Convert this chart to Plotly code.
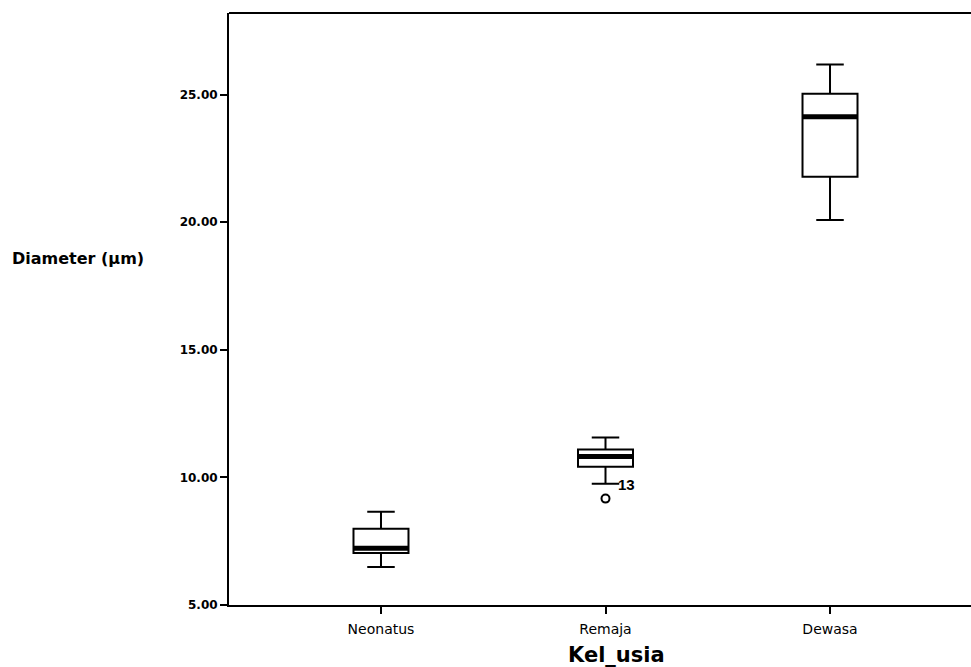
import plotly.graph_objects as go

# ---- data ----
categories = ["Neonatus", "Remaja", "Dewasa"]
lower_fence = [6.49, 9.75, 20.09]
q1_values = [7.04, 10.42, 21.78]
median_values = [7.22, 10.82, 24.13]
q3_values = [7.99, 11.09, 25.04]
upper_fence = [8.65, 11.56, 26.18]
outlier_cat = [1]
outlier_values = [9.17]
outlier_labels = ["13"]
y_ticks = [5, 10, 15, 20, 25]

BOX_W = 0.245
xpos = list(range(len(categories)))

fig = go.Figure()
fig.add_trace(go.Box(
    x=xpos,
    q1=q1_values, median=median_values, q3=q3_values,
    lowerfence=lower_fence, upperfence=upper_fence,
    width=BOX_W, whiskerwidth=0.5,
    fillcolor="white",
    line=dict(color="black", width=2),
    showlegend=False, hoverinfo="skip",
))

# thick median lines (SPSS style)
for i, m in zip(xpos, median_values):
    fig.add_shape(type="line", xref="x", yref="y",
                  x0=i - BOX_W / 2, x1=i + BOX_W / 2, y0=m, y1=m,
                  line=dict(color="black", width=5))

# outliers
fig.add_trace(go.Scatter(
    x=outlier_cat, y=outlier_values, mode="markers",
    marker=dict(symbol="circle-open", size=8, color="black", line=dict(width=2)),
    showlegend=False, hoverinfo="skip",
))
for xc, yv, lab in zip(outlier_cat, outlier_values, outlier_labels):
    fig.add_annotation(x=xc, y=yv, text="<b>" + lab + "</b>", showarrow=False,
                       xanchor="left", yanchor="middle", xshift=10, yshift=14,
                       font=dict(family="Liberation Sans", size=15, color="black"))

# top frame line
fig.add_shape(type="line", xref="paper", yref="paper", x0=0, x1=1, y0=1, y1=1,
              line=dict(color="black", width=2))

fig.update_layout(
    width=971, height=667,
    margin=dict(l=229, r=0, t=13, b=62),
    paper_bgcolor="white", plot_bgcolor="white",
    font=dict(family="DejaVu Sans", color="black"),
    xaxis=dict(
        range=[-0.677, 2.628],
        tickvals=xpos, ticktext=categories,
        showline=True, linecolor="black", linewidth=2,
        ticks="outside", ticklen=7, tickwidth=2, tickcolor="black",
        showgrid=False, zeroline=False,
        tickfont=dict(family="DejaVu Sans", size=14, color="black"),
        ticklabelstandoff=3,
    ),
    yaxis=dict(
        range=[5, 28.2],
        tickvals=y_ticks, tickformat=".2f",
        showline=True, linecolor="black", linewidth=2,
        ticks="outside", ticklen=7, tickwidth=2, tickcolor="black",
        showgrid=False, zeroline=False,
        tickfont=dict(family="DejaVu Sans", size=12, color="black", weight="bold"),
    ),
    annotations=list(fig.layout.annotations) + [
        dict(text="<b>Diameter (µm)</b>", xref="paper", yref="paper",
             x=-0.295, y=0.586, xanchor="left", yanchor="middle", showarrow=False,
             font=dict(family="DejaVu Sans", size=16, color="black")),
        dict(text="<b>Kel_usia</b>", xref="paper", yref="paper",
             x=0.5216, y=-0.0845, xanchor="center", yanchor="middle", showarrow=False,
             font=dict(family="DejaVu Sans", size=21, color="black")),
    ],
)

fig.write_html("out.html")
